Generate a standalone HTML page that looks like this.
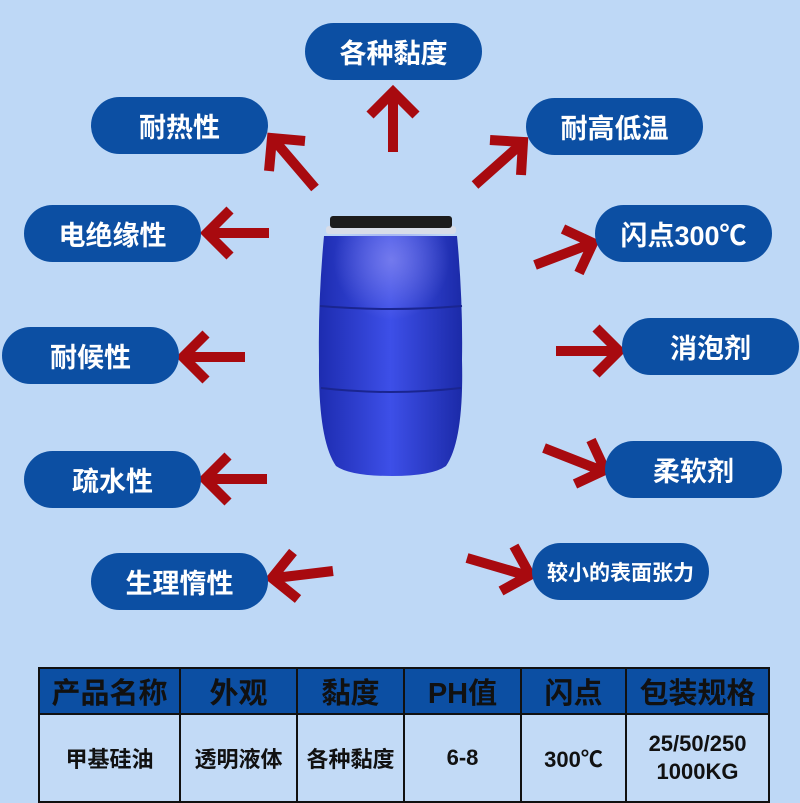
<!DOCTYPE html>
<html><head><meta charset="utf-8"><style>
body{margin:0;width:800px;height:800px;background:#bed8f6;position:relative;overflow:hidden;font-family:"Liberation Sans","Noto Sans CJK SC",sans-serif;}
.p{position:absolute;background:#0c4fa3;color:#fff;font-weight:bold;font-size:27px;display:flex;align-items:center;justify-content:center;border-radius:29px;height:57px;width:177px;}
table{position:absolute;left:38px;top:667px;border-collapse:collapse;table-layout:fixed;}
td{border:2px solid #111;text-align:center;font-weight:bold;padding:0;}
tr.h td{background:#0c4fa3;height:44px;font-size:29px;color:#111;}
tr.b td{height:86px;font-size:22px;color:#111;vertical-align:middle;background:#c2daf6;}
</style></head><body>
<svg width="800" height="800" style="position:absolute;left:0;top:0">
<defs>
<linearGradient id="g" x1="0" x2="1" y1="0" y2="0">
<stop offset="0" stop-color="#1d2cb0"/><stop offset="0.5" stop-color="#3d4fe8"/><stop offset="1" stop-color="#1b2aa8"/></linearGradient>
<radialGradient id="hl" cx="0.5" cy="0.2" r="0.4"><stop offset="0" stop-color="#8a8cf0" stop-opacity="0.7"/><stop offset="1" stop-color="#8a8cf0" stop-opacity="0"/></radialGradient>
</defs>
<path d="M324 236 Q318 300 319 360 Q318 440 336 466 Q350 476 392 476 Q432 476 446 466 Q464 440 462 360 Q463 300 457 236 Z" fill="url(#g)"/>
<rect x="319" y="230" width="145" height="150" fill="url(#hl)"/>
<path d="M320 306 Q390 312 462 306" stroke="#1a2590" stroke-width="2" fill="none"/>
<path d="M321 388 Q390 396 461 388" stroke="#1a2590" stroke-width="2" fill="none"/>
<rect x="326" y="226" width="130" height="8" rx="3" fill="#d8dde8"/>
<rect x="330" y="216" width="122" height="12" rx="3" fill="#1c1c1c"/>
<g stroke="#a80a0f" stroke-width="10" fill="none" stroke-linecap="butt" stroke-linejoin="miter">
<path d="M393 152L393 92M370 115L393 92L416 115"/>
<path d="M315 188L274 140M269 171L272 138L305 141"/>
<path d="M475 185L520 145M490 140L523 142L521 175"/>
<path d="M269 233L210 233M230 210L207 233L230 256"/>
<path d="M535 265L590 244M563 229L593 243L579 273"/>
<path d="M245 357L186 357M206 334L183 357L206 380"/>
<path d="M556 351L615 351M596 328L619 351L596 374"/>
<path d="M267 479L208 479M228 456L205 479L228 502"/>
<path d="M544 448L600 470M575 484L605 470L591 440"/>
<path d="M333 571L275 578M298 599L272 578L293 552"/>
<path d="M467 558L525 575M514 546L530 575L501 591"/>
</g>
</svg>
<div class="p" style="left:305px;top:23px">各种黏度</div>
<div class="p" style="left:91px;top:97px">耐热性</div>
<div class="p" style="left:526px;top:98px">耐高低温</div>
<div class="p" style="left:24px;top:205px">电绝缘性</div>
<div class="p" style="left:595px;top:205px">闪点300℃</div>
<div class="p" style="left:2px;top:327px">耐候性</div>
<div class="p" style="left:622px;top:318px">消泡剂</div>
<div class="p" style="left:24px;top:451px">疏水性</div>
<div class="p" style="left:605px;top:441px">柔软剂</div>
<div class="p" style="left:91px;top:553px">生理惰性</div>
<div class="p" style="left:532px;top:543px;width:177px;font-size:21px">较小的表面张力</div>
<table>
<colgroup><col style="width:141px"><col style="width:117px"><col style="width:107px"><col style="width:117px"><col style="width:105px"><col style="width:143px"></colgroup>
<tr class="h"><td>产品名称</td><td>外观</td><td>黏度</td><td>PH值</td><td>闪点</td><td>包装规格</td></tr>
<tr class="b"><td>甲基硅油</td><td>透明液体</td><td>各种黏度</td><td>6-8</td><td>300℃</td><td style="line-height:28px">25/50/250<br>1000KG</td></tr>
</table>
</body></html>
